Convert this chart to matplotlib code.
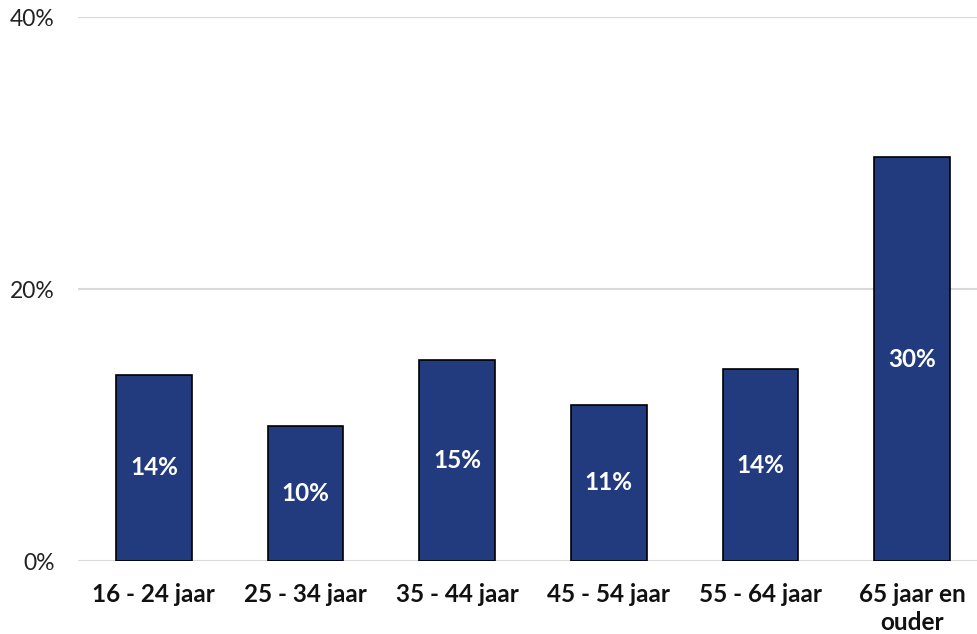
import matplotlib
matplotlib.use("Agg")
import matplotlib.pyplot as plt
from matplotlib.ticker import FuncFormatter

categories = ["16 - 24 jaar", "25 - 34 jaar", "35 - 44 jaar", "45 - 54 jaar", "55 - 64 jaar", "65 jaar en\nouder"]
values = [13.7, 9.9, 14.8, 11.5, 14.1, 29.7]
labels = ["14%", "10%", "15%", "11%", "14%", "30%"]

plt.rcParams['font.family'] = ['Lato', 'DejaVu Sans']

fig = plt.figure(figsize=(9.77, 6.34), dpi=100)
ax = fig.add_axes([78/977, 73/634, 910/977, 544/634])

x = list(range(len(categories)))
bars = ax.bar(x, values, width=0.5, color="#213B7E", edgecolor="black", linewidth=1.2, zorder=3)
for b, v, lab in zip(bars, values, labels):
    ax.text(b.get_x() + b.get_width()/2, v/2, lab, ha="center", va="center",
            color="white", fontsize=17.5, fontweight="bold", zorder=4)

ax.set_xlim(-0.5, 5.5)
ax.set_ylim(0, 40)
ax.set_yticks([0, 20, 40])
ax.yaxis.set_major_formatter(FuncFormatter(lambda v, p: f"{int(v)}%"))
ax.set_xticks(x)
ax.set_xticklabels(categories, fontsize=17.5, fontweight="bold", linespacing=1.25)
ax.tick_params(axis="y", labelsize=16.5, length=0, pad=17, colors="#222222")
ax.tick_params(axis="x", length=0, pad=16, colors="#111111")
ax.grid(axis="y", color="#d9d9d9", linewidth=1.5, zorder=0)
for s in ax.spines.values():
    s.set_visible(False)

fig.savefig("out.png", dpi=100)
